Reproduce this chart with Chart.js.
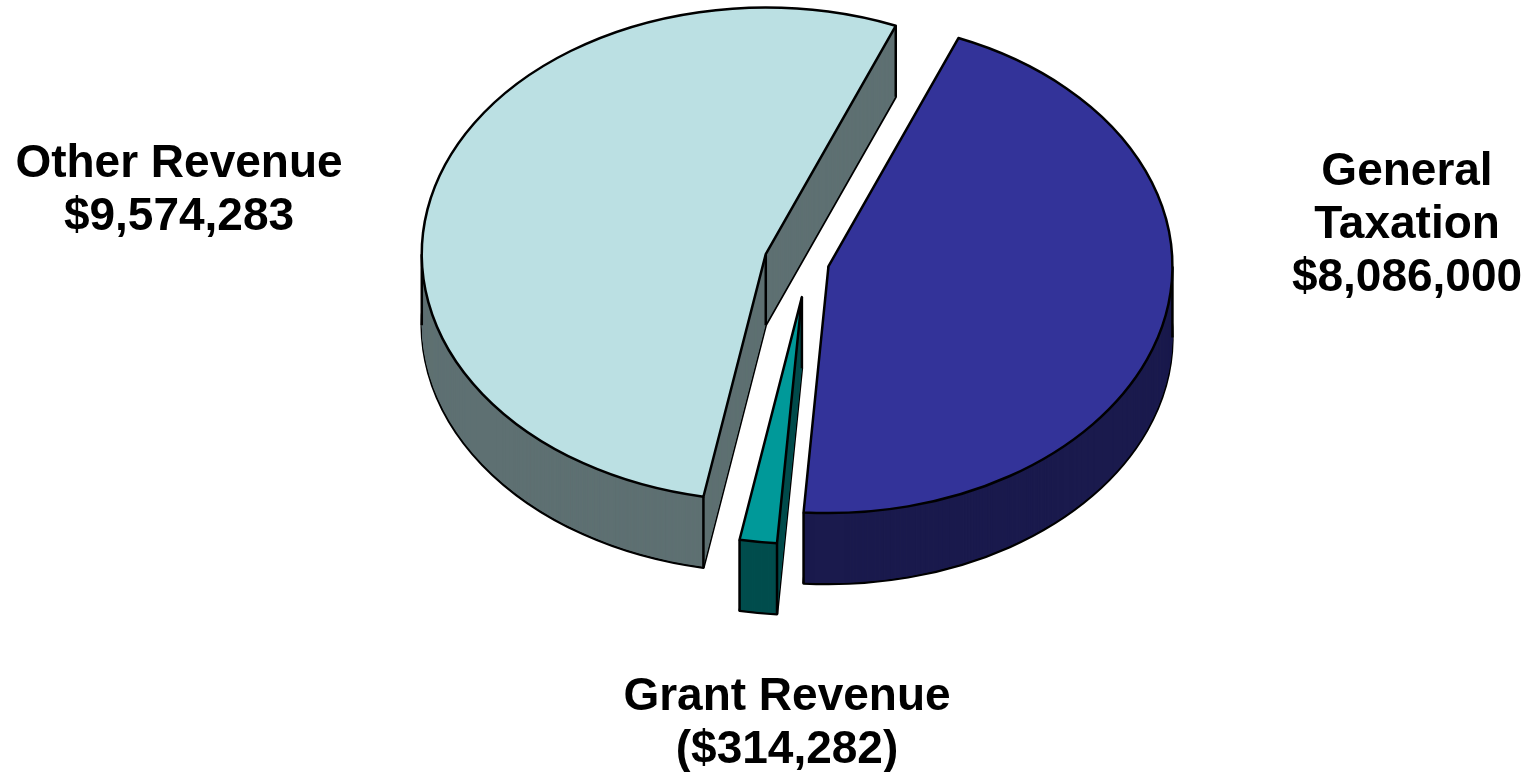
<!DOCTYPE html>
<html>
<head>
<meta charset="utf-8">
<script src="https://cdn.jsdelivr.net/npm/chart.js@4"></script>
<style>
  html, body { margin: 0; padding: 0; background: #fff; }
</style>
</head>
<body>
<canvas id="pie-chart" width="1535" height="772"></canvas>
<script>
// data
const categories = ['General Taxation', 'Grant Revenue', 'Other Revenue'];
const values = [8086000, -314282, 9574283];

// look of the 3d pie
const topColors = ['#333399', '#009999', '#bbe0e3'];
const sideColors = ['#1a1a4d', '#004d4d', '#5e7072'];
const explode = [21, 48, 44];
const tilt = 0.717;
const depth = 71;

// label lines and where they sit (x = centre, y = first baseline)
const labelSpots = [
  { lines: ['General', 'Taxation'], x: 1407, y: 185 },
  { lines: ['Grant Revenue'], x: 787, y: 710 },
  { lines: ['Other Revenue'], x: 179, y: 177 }
];

function money(v) {
  const s = '$' + Math.abs(v).toLocaleString('en-US');
  return v < 0 ? '(' + s + ')' : s;
}

function wedge(ctx, a) {
  ctx.beginPath();
  ctx.moveTo(a.x, a.y);
  ctx.arc(a.x, a.y, a.outerRadius, a.startAngle, a.endAngle);
  ctx.closePath();
}

function shiftFor(a, i) {
  const mid = (a.startAngle + a.endAngle) / 2;
  return { dx: Math.cos(mid) * explode[i], dy: Math.sin(mid) * explode[i] * tilt };
}

// go into the squashed space of one slice, dropped by d px
function enter(ctx, a, s, d) {
  ctx.save();
  ctx.translate(s.dx, s.dy + d);
  ctx.translate(a.x, a.y);
  ctx.scale(1, tilt);
  ctx.translate(-a.x, -a.y);
}

function inArc(a, t) {
  let u = t;
  while (u < a.startAngle) u += Math.PI * 2;
  return u <= a.endAngle;
}

const pie3d = {
  id: 'pie3d',
  beforeDatasetsDraw(chart) {
    const ctx = chart.ctx;
    const arcs = chart.getDatasetMeta(0).data;
    const mid = a => (a.startAngle + a.endAngle) / 2;
    const order = arcs.map((a, i) => i).sort((p, q) => Math.sin(mid(arcs[p])) - Math.sin(mid(arcs[q])));
    ctx.save();
    ctx.lineJoin = 'round';
    ctx.lineWidth = 2.5;
    ctx.strokeStyle = '#000';
    order.forEach(i => {
      const a = arcs[i];
      const s = shiftFor(a, i);
      // sides
      for (let d = depth; d > 0; d--) {
        enter(ctx, a, s, d);
        wedge(ctx, a);
        ctx.restore();
        ctx.fillStyle = sideColors[i];
        ctx.fill();
        if (d === depth) ctx.stroke();
      }
      // vertical edges
      const pt = t => [a.x + s.dx + Math.cos(t) * a.outerRadius, a.y + s.dy + Math.sin(t) * a.outerRadius * tilt];
      const corners = [[a.x + s.dx, a.y + s.dy], pt(a.startAngle), pt(a.endAngle)];
      [0, Math.PI].forEach(t => { if (inArc(a, t)) corners.push(pt(t)); });
      ctx.beginPath();
      corners.forEach(([x, y]) => { ctx.moveTo(x, y); ctx.lineTo(x, y + depth); });
      ctx.stroke();
      // top face
      enter(ctx, a, s, 0);
      a.draw(ctx);
      wedge(ctx, a);
      ctx.restore();
      ctx.stroke();
    });
    ctx.restore();
    return false;
  },
  afterDraw(chart) {
    const ctx = chart.ctx;
    ctx.save();
    ctx.font = 'bold 46px "Liberation Sans", Arial, sans-serif';
    ctx.textAlign = 'center';
    ctx.fillStyle = '#000';
    labelSpots.forEach((spot, i) => {
      const lines = spot.lines.concat([money(values[i])]);
      lines.forEach((t, j) => ctx.fillText(t, spot.x, spot.y + j * 53));
    });
    ctx.restore();
  }
};

var ctx = document.getElementById('pie-chart');
new Chart(ctx, {
  type: 'pie',
  data: {
    labels: categories,
    datasets: [{
      data: values,
      backgroundColor: topColors,
      borderWidth: 0
    }]
  },
  options: {
    responsive: false,
    animation: false,
    events: [],
    rotation: 22.2,
    radius: 344,
    layout: { padding: { left: 81, right: 0, top: 0, bottom: 246 } },
    plugins: {
      legend: { display: false },
      tooltip: { enabled: false }
    }
  },
  plugins: [pie3d]
});
</script>
</body>
</html>
